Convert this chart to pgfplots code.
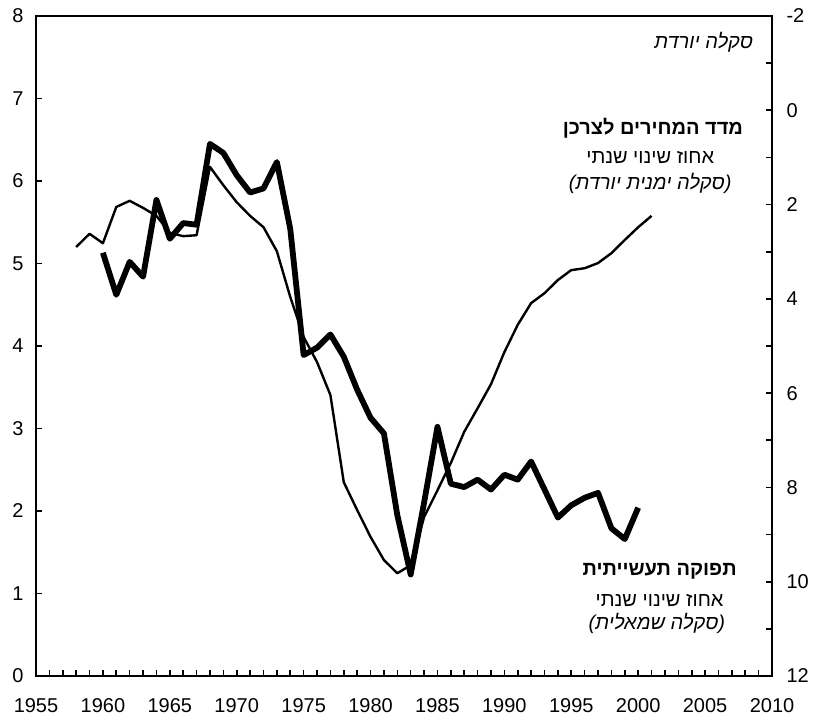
\documentclass[border=0pt]{standalone}
\usepackage{pgfplots}
\pgfplotsset{compat=1.18}
\usepackage{fontspec}
\setmainfont{Liberation Sans}
\newfontfamily\heb[Script=Hebrew]{Liberation Sans}
\TeXXeTstate=1

% industrial output, annual % change (left scale)
\pgfplotstableread{
year val
1960 5.13
1961 4.62
1962 5.02
1963 4.84
1964 5.77
1965 5.30
1966 5.49
1967 5.47
1968 6.45
1969 6.34
1970 6.07
1971 5.86
1972 5.91
1973 6.23
1974 5.42
1975 3.89
1976 3.98
1977 4.14
1978 3.87
1979 3.47
1980 3.13
1981 2.94
1982 1.95
1983 1.23
1984 2.10
1985 3.02
1986 2.33
1987 2.29
1988 2.38
1989 2.26
1990 2.44
1991 2.38
1992 2.60
1993 2.26
1994 1.92
1995 2.07
1996 2.16
1997 2.22
1998 1.79
1999 1.66
2000 2.04
}\output

% CPI, annual % change (right scale, reversed)
\pgfplotstableread{
year val
1958 2.90
1959 2.62
1960 2.82
1961 2.05
1962 1.92
1963 2.07
1964 2.24
1965 2.60
1966 2.67
1967 2.65
1968 1.20
1969 1.59
1970 1.95
1971 2.24
1972 2.48
1973 2.99
1974 3.96
1975 4.81
1976 5.34
1977 6.04
1978 7.89
1979 8.48
1980 9.05
1981 9.54
1982 9.82
1983 9.65
1984 8.63
1985 8.06
1986 7.48
1987 6.82
1988 6.32
1989 5.81
1990 5.13
1991 4.55
1992 4.09
1993 3.88
1994 3.60
1995 3.39
1996 3.35
1997 3.24
1998 3.03
1999 2.75
2000 2.48
2001 2.24
}\cpi

\pgfplotsset{
  base/.style={
    scale only axis,
    width=736pt, height=660pt,
    xmin=1955, xmax=2010,
    tick align=inside,
    major tick length=6pt, minor tick length=6pt,
    every tick/.style={black, line width=1.6pt},
    axis line style={line width=2.6pt},
    font=\fontsize{20}{24}\selectfont,
    /pgf/number format/assume math mode=true,
    /pgf/number format/1000 sep={},
  },
}

\begin{document}
\begin{tikzpicture}
\begin{axis}[
  base,
  ymin=0, ymax=8,
  ytick={0,1,...,8},
  xtick={1955,1960,...,2010},
  minor x tick num=4,
  xtick pos=bottom,
  ytick pos=left,
  yticklabel style={xshift=-9pt},
  xticklabel style={yshift=-19pt},
]
\addplot[black, line width=5.8pt, line join=round] table[x=year, y=val] {\output};

\path (axis cs:2008.6,7.685) node[anchor=east, inner sep=0pt] {\heb\itshape\beginR סקלה יורדת\endR};
\path (axis cs:2001.1,6.64) node[inner sep=0pt] {\heb\bfseries\beginR מדד המחירים לצרכן\endR};
\path (axis cs:2000.9,6.29) node[inner sep=0pt] {\heb\beginR אחוז שינוי שנתי\endR};
\path (axis cs:2000.9,5.976) node[inner sep=0pt] {\heb\itshape\beginR (סקלה ימנית יורדת)\endR};
\path (axis cs:2001.6,1.27) node[inner sep=0pt] {\heb\bfseries\beginR תפוקה תעשייתית\endR};
\path (axis cs:2001.6,0.92) node[inner sep=0pt] {\heb\beginR אחוז שינוי שנתי\endR};
\path (axis cs:2001.4,0.64) node[inner sep=0pt] {\heb\itshape\beginR (סקלה שמאלית)\endR};
\end{axis}

\begin{axis}[
  base,
  axis x line=none,
  axis y line*=right,
  y dir=reverse,
  ymin=-2, ymax=12,
  ytick={-2,0,...,12},
  yticklabels={-2,0,2,4,6,8,10,12},
  minor ytick={-1,1,...,11},
  yticklabel style={xshift=11pt},
]
\addplot[black, line width=2.4pt, line join=round] table[x=year, y=val] {\cpi};
\end{axis}

\pgfresetboundingbox
\path[use as bounding box] (-36pt,-42pt) rectangle (777pt,676pt);
\end{tikzpicture}
\end{document}
